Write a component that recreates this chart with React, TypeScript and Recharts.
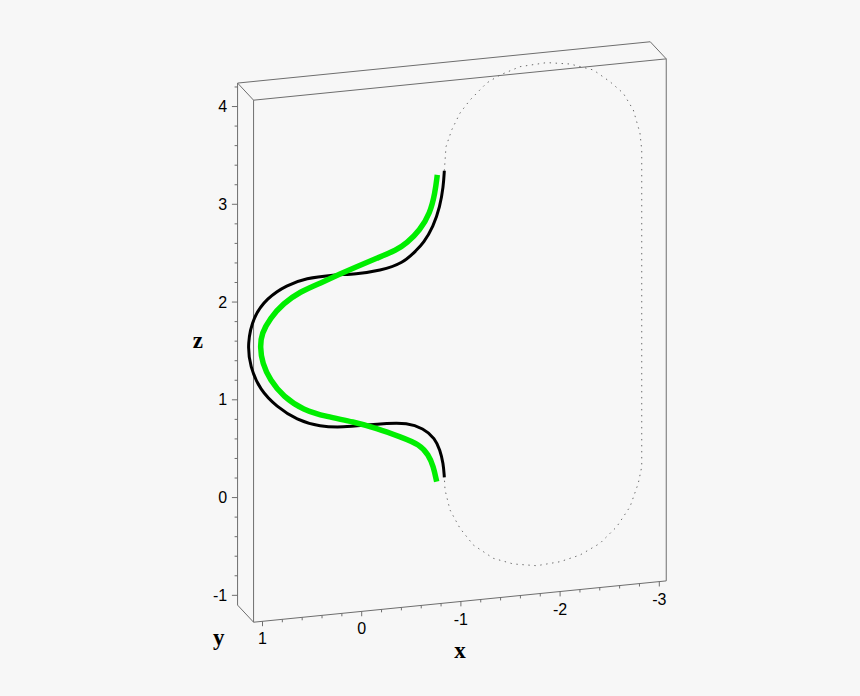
import { ComposedChart, Line, Scatter, XAxis, YAxis } from "recharts";

// box extent in data units
const X_MIN = -3.07;
const X_MAX = 1.09;
const Z_MIN = -1.1;
const Z_MAX = 4.24;

const xTicks = [1, 0, -1, -2, -3];
const zTicks = [-1, 0, 1, 2, 3, 4];

// black curve (x, z)
const blackX = [-0.833, -0.823, -0.789, -0.722, -0.621, -0.554, -0.419, -0.184, 0.05, 0.32, 0.554, 0.756, 0.958, 1.093, 1.153, 1.126, 1.025, 0.857, 0.655, 0.42, 0.185, -0.05, -0.252, -0.454, -0.621, -0.739, -0.789, -0.823, -0.833];
const blackZ = [3.323, 3.16, 2.96, 2.762, 2.602, 2.541, 2.418, 2.366, 2.356, 2.373, 2.364, 2.316, 2.2, 2.025, 1.759, 1.517, 1.269, 1.081, 0.925, 0.832, 0.802, 0.802, 0.798, 0.784, 0.71, 0.596, 0.471, 0.331, 0.187];

// green curve (x, z)
const greenX = [-0.762, -0.739, -0.689, -0.588, -0.454, -0.353, -0.151, 0.05, 0.219, 0.42, 0.622, 0.79, 0.924, 1.008, 1.025, 1.002, 0.924, 0.79, 0.589, 0.353, 0.085, -0.151, -0.386, -0.588, -0.673, -0.722, -0.756];
const greenZ = [3.287, 3.102, 2.902, 2.741, 2.619, 2.561, 2.497, 2.431, 2.373, 2.299, 2.233, 2.131, 1.992, 1.847, 1.712, 1.54, 1.361, 1.176, 1.02, 0.927, 0.849, 0.758, 0.648, 0.547, 0.432, 0.314, 0.15];

// dotted return path (x, z)
const dottedX = [-0.833, -0.85, -0.907, -0.991, -1.092, -1.26, -1.394, -1.596, -1.865, -2.1, -2.335, -2.503, -2.637, -2.738, -2.805, -2.823, -2.823, -2.823, -2.788, -2.705, -2.571, -2.402, -2.201, -1.999, -1.764, -1.528, -1.327, -1.125, -0.991, -0.89, -0.84, -0.833];
const dottedZ = [3.323, 3.567, 3.732, 3.897, 4.02, 4.177, 4.245, 4.31, 4.324, 4.286, 4.201, 4.064, 3.932, 3.751, 3.508, 3.333, 1.798, 0.093, -0.073, -0.304, -0.495, -0.648, -0.747, -0.795, -0.812, -0.77, -0.692, -0.535, -0.351, -0.153, 0.057, 0.187];

// oblique projection: t = 1 front face, t = 0 back face
const DEPTH_U = 0.1613;
const DEPTH_V = 0.175;
const SKEW = 0.1016;

type P = { u: number; v: number | null };

function project(x: number, z: number, t = 1): P {
  return { u: -x - DEPTH_U * (1 - t), v: z - SKEW * x + DEPTH_V * (1 - t) };
}

function curve(xs: number[], zs: number[]): P[] {
  return xs.map((x, i) => project(x, zs[i]));
}

// segments joined by null points so one Line draws them all
function segments(pairs: [P, P][]): P[] {
  const out: P[] = [];
  pairs.forEach(([a, b]) => {
    out.push(a, b, { u: b.u, v: null });
  });
  return out;
}

const boxEdges = segments([
  [project(X_MAX, Z_MIN, 1), project(X_MAX, Z_MAX, 1)],
  [project(X_MAX, Z_MAX, 1), project(X_MIN, Z_MAX, 1)],
  [project(X_MAX, Z_MIN, 1), project(X_MIN, Z_MIN, 1)],
  [project(X_MIN, Z_MIN, 1), project(X_MIN, Z_MAX, 1)],
  [project(X_MAX, Z_MIN, 0), project(X_MAX, Z_MAX, 0)],
  [project(X_MAX, Z_MAX, 0), project(X_MIN, Z_MAX, 0)],
  [project(X_MAX, Z_MAX, 0), project(X_MAX, Z_MAX, 1)],
  [project(X_MIN, Z_MAX, 0), project(X_MIN, Z_MAX, 1)],
  [project(X_MAX, Z_MIN, 0), project(X_MAX, Z_MIN, 1)],
]);

const minorSteps = (from: number, to: number) => {
  const out: number[] = [];
  for (let i = Math.round(from * 5); i <= Math.round(to * 5); i++) out.push(i / 5);
  return out;
};

const zTickSegs = segments(
  minorSteps(-1, 4.2).map((z) => {
    const p = project(X_MAX, z, 0);
    const len = Number.isInteger(z) ? 0.057 : 0.03;
    return [p, { u: p.u - len, v: p.v }] as [P, P];
  })
);

const xTickSegs = segments(
  minorSteps(-3, 1).map((x) => {
    const p = project(x, Z_MIN, 1);
    const len = Number.isInteger(x) ? 0.05 : 0.03;
    return [p, { u: p.u, v: (p.v as number) - len }] as [P, P];
  })
);

type Lbl = { u: number; v: number; text: string; anchor: string; kind: "tick" | "axis" };

const labels: Lbl[] = [
  ...zTicks.map((z) => {
    const p = project(X_MAX, z, 0);
    return { u: p.u - 0.105, v: p.v as number, text: String(z), anchor: "end", kind: "tick" as const };
  }),
  ...xTicks.map((x) => {
    const p = project(x, Z_MIN, 1);
    return { u: p.u, v: (p.v as number) - 0.18, text: String(x), anchor: "middle", kind: "tick" as const };
  }),
  (() => {
    const p = project(X_MAX, (Z_MIN + Z_MAX) / 2, 0);
    return { u: p.u - 0.4, v: (p.v as number) + 0.04, text: "z", anchor: "middle", kind: "axis" as const };
  })(),
  (() => {
    const p = project(X_MAX, Z_MIN, 0.5);
    return { u: p.u - 0.27, v: (p.v as number) - 0.24, text: "y", anchor: "middle", kind: "axis" as const };
  })(),
  (() => {
    const p = project((X_MIN + X_MAX) / 2, Z_MIN, 1);
    return { u: p.u, v: (p.v as number) - 0.5, text: "x", anchor: "middle", kind: "axis" as const };
  })(),
];

function LabelShape(props: any) {
  const { cx, cy, payload } = props;
  const axis = payload.kind === "axis";
  return (
    <text
      x={cx}
      y={cy}
      textAnchor={payload.anchor}
      dominantBaseline="central"
      fontFamily={axis ? "'Liberation Serif', 'Times New Roman', serif" : "'Liberation Sans', Arial, sans-serif"}
      fontWeight={axis ? "bold" : "normal"}
      fontSize={axis ? 23 : 16}
      fill="#000"
    >
      {payload.text}
    </text>
  );
}

export default function App() {
  return (
    <div style={{ width: 860, height: 696, background: "#f7f7f7" }}>
      <style>{`body{margin:0;background:#f7f7f7}`}</style>
      <ComposedChart
        width={860}
        height={696}
        margin={{ top: 0, right: 0, bottom: 0, left: 0 }}
      >
        <XAxis dataKey="u" type="number" domain={[-3.6462, 5.0232]} allowDataOverflow hide />
        <YAxis dataKey="v" type="number" domain={[-1.9655, 5.154]} allowDataOverflow hide />
        <Line data={boxEdges} dataKey="v" type="linear" stroke="#6e6e6e" strokeWidth={1} dot={false} activeDot={false} isAnimationActive={false} />
        <Line data={zTickSegs} dataKey="v" type="linear" stroke="#6e6e6e" strokeWidth={1} dot={false} activeDot={false} isAnimationActive={false} />
        <Line data={xTickSegs} dataKey="v" type="linear" stroke="#6e6e6e" strokeWidth={1} dot={false} activeDot={false} isAnimationActive={false} />
        <Line data={curve(dottedX, dottedZ)} dataKey="v" type="linear" stroke="#6a6a6a" strokeWidth={1} strokeDasharray="1.4 4.6" dot={false} activeDot={false} isAnimationActive={false} />
        <Line data={curve(blackX, blackZ)} dataKey="v" type="basis" stroke="#000" strokeWidth={3} dot={false} activeDot={false} isAnimationActive={false} />
        <Line data={curve(greenX, greenZ)} dataKey="v" type="basis" stroke="#00ee00" strokeWidth={5.5} dot={false} activeDot={false} isAnimationActive={false} />
        <Scatter data={labels} dataKey="v" shape={LabelShape} isAnimationActive={false} />
      </ComposedChart>
    </div>
  );
}
